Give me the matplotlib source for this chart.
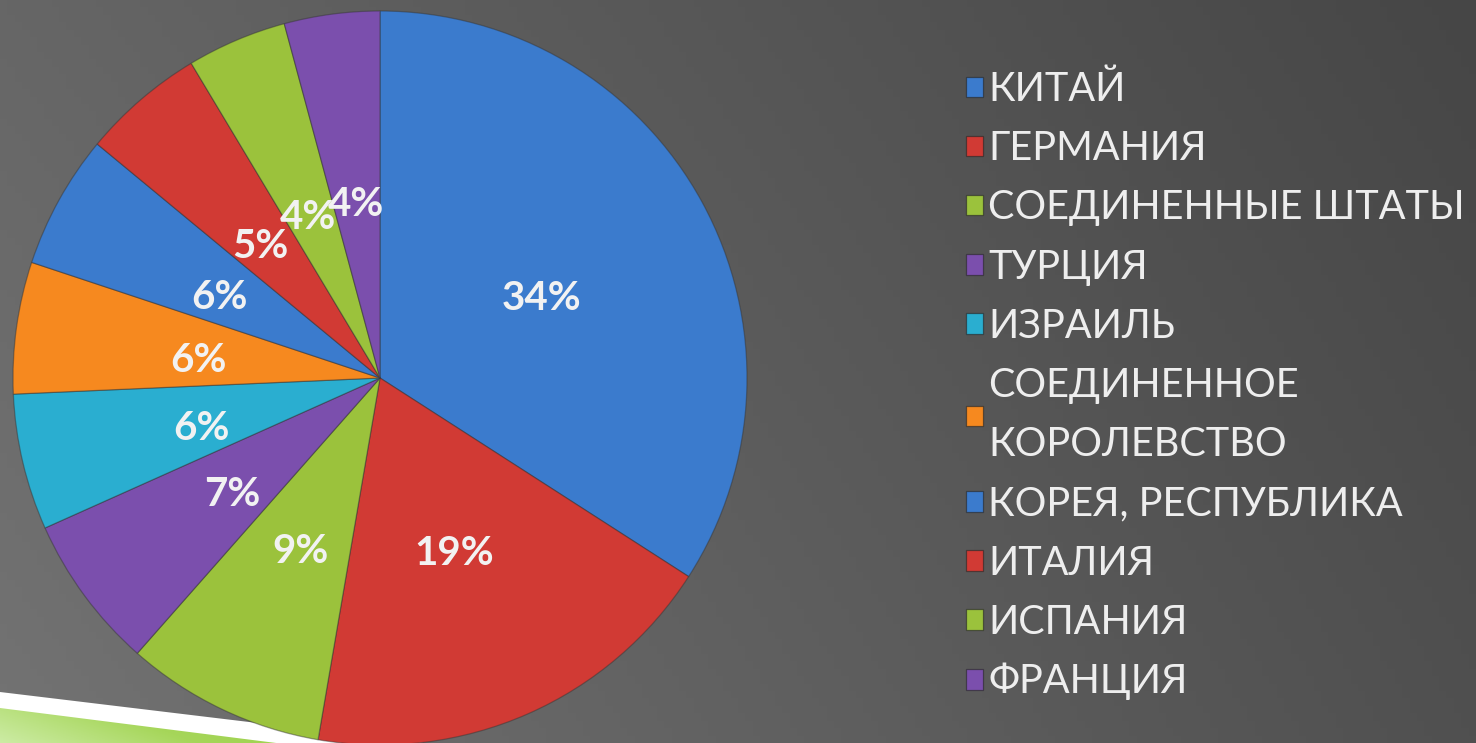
import numpy as np
import matplotlib
matplotlib.use("Agg")
import matplotlib.pyplot as plt
from matplotlib.patches import Polygon
from matplotlib.colors import LinearSegmentedColormap
from matplotlib.transforms import ScaledTranslation

# ---- data ----
countries = ["КИТАЙ", "ГЕРМАНИЯ", "СОЕДИНЕННЫЕ ШТАТЫ", "ТУРЦИЯ", "ИЗРАИЛЬ",
             "СОЕДИНЕННОЕ\nКОРОЛЕВСТВО", "КОРЕЯ, РЕСПУБЛИКА", "ИТАЛИЯ",
             "ИСПАНИЯ", "ФРАНЦИЯ"]
shares = [34.1, 18.6, 8.8, 6.8, 6.0, 5.8, 5.9, 5.4, 4.4, 4.2]
colors = ["#3b7bcd", "#d13a34", "#9bc23c", "#7b4fad", "#2aaed0",
          "#f6891f", "#3b7bcd", "#d13a34", "#9bc23c", "#7b4fad"]

plt.rcParams['font.family'] = ['Lato', 'Open Sans', 'DejaVu Sans']

W, H = 1476, 743
fig = plt.figure(figsize=(W / 100, H / 100), dpi=100)

# ---- background (slide) ----
bg = fig.add_axes([0, 0, 1, 1])
bg.set_xlim(0, W)
bg.set_ylim(H, 0)
bg.axis('off')
xx, yy = np.meshgrid(np.linspace(0, 1, 200), np.linspace(0, 1, 100))
tl, tr, bl, br = 102, 70, 115, 80
grad = (tl * (1 - xx) * (1 - yy) + tr * xx * (1 - yy) + bl * (1 - xx) * yy + br * xx * yy) / 255.0
bg.imshow(np.dstack([grad, grad, grad]), extent=(0, W, H, 0), aspect='auto', zorder=0)

white = Polygon([(0, 692), (440, 745), (0, 745)], closed=True, facecolor='white',
                edgecolor='none', zorder=1)
bg.add_patch(white)
green_cmap = LinearSegmentedColormap.from_list('g', ['#cdeca6', '#a6d65a', '#98cf45'])
gx, gy = np.meshgrid(np.linspace(0, 1, 200), np.linspace(0, 1, 50))
gval = np.clip(0.75 * gx + 0.5 * (1 - gy) * 0.6, 0, 1)
green_img = bg.imshow(gval, extent=(0, 300, 745, 700), cmap=green_cmap, aspect='auto', zorder=2)
green_poly = Polygon([(0, 708), (292, 745), (0, 745)], closed=True, facecolor='none',
                     edgecolor='none', transform=bg.transData)
bg.add_patch(green_poly)
green_img.set_clip_path(green_poly)
bg.set_xlim(0, W)
bg.set_ylim(H, 0)

# ---- pie ----
R = 367
cx, cy = 380, 378
ax = fig.add_axes([(cx - R) / W, (H - cy - R) / H, 2 * R / W, 2 * R / H])
wedges, texts, autotexts = ax.pie(
    shares, colors=colors, startangle=90, counterclock=False,
    autopct=lambda p: f"{p:.0f}%", pctdistance=0.5,
    wedgeprops=dict(edgecolor=(0.2, 0.2, 0.2, 0.45), linewidth=0.9),
    textprops=dict(color='#f2f2f2', fontsize=29, fontweight='bold'))
ax.set_xlim(-1, 1)
ax.set_ylim(-1, 1)
ax.set_aspect('auto')
ax.axis('off')
shift = ScaledTranslation(0, -8 / 100, fig.dpi_scale_trans)
for t in autotexts:
    t.set_transform(ax.transData + shift)

# ---- legend ----
leg = fig.legend(wedges, countries, loc='upper left', bbox_to_anchor=(966 / W, 1 - 71 / H),
                 frameon=False, fontsize=28.5, handlelength=0.42, handleheight=0.42,
                 handletextpad=0.14, labelspacing=0.56, borderaxespad=0, borderpad=0)
for t in leg.get_texts():
    t.set_color('#eeeeee')
    t.set_linespacing(1.75)
for h in leg.legend_handles:
    h.set_edgecolor((0.15, 0.15, 0.15, 0.6))

fig.savefig("out.png", dpi=100)
